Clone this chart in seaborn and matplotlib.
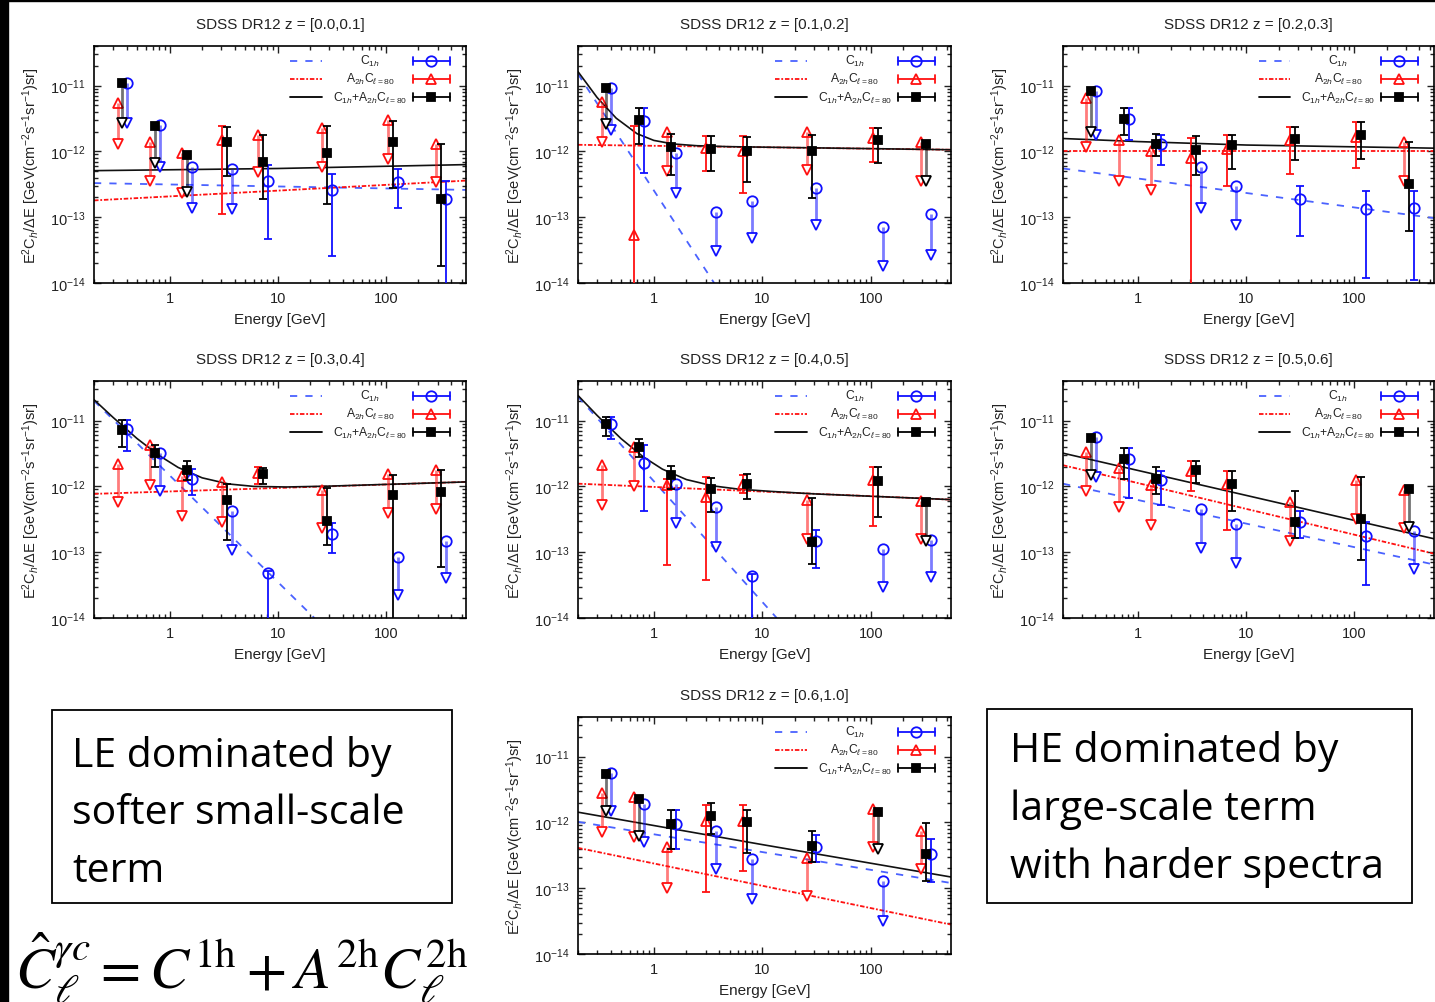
import numpy as np
import pandas as pd
import seaborn as sns
import matplotlib
matplotlib.use("Agg")
import matplotlib.pyplot as plt
from matplotlib.patches import Rectangle
from matplotlib.ticker import LogLocator, NullFormatter, FixedLocator, FixedFormatter

# ---------------- data ----------------
E_SUM = [0.365, 0.73, 1.45, 3.4, 7.3, 28.5, 116, 325]
E_C1H = [0.405, 0.81, 1.61, 3.77, 8.1, 31.6, 129, 361]
E_A2H = [0.33, 0.66, 1.31, 3.06, 6.6, 25.7, 105, 293]

TITLES = ["SDSS DR12 z = [0.0,0.1]", "SDSS DR12 z = [0.1,0.2]", "SDSS DR12 z = [0.2,0.3]",
          "SDSS DR12 z = [0.3,0.4]", "SDSS DR12 z = [0.4,0.5]", "SDSS DR12 z = [0.5,0.6]",
          "SDSS DR12 z = [0.6,1.0]"]

Y_TICKS = [1e-14, 1e-13, 1e-12, 1e-11]
Y_TICK_LABELS = [r"10$^{-14}$", r"10$^{-13}$", r"10$^{-12}$", r"10$^{-11}$"]
X_TICKS = [1, 10, 100]
X_TICK_LABELS = ["1", "10", "100"]

# points: (value, lower, upper); upper None -> upper limit, lower = arrow tip
Z00_SUM = [(1.1e-11, 2.7e-12, None), (2.4e-12, 6.6e-13, None), (8.9e-13, 2.4e-13, None),
           (1.4e-12, 4.2e-13, 2.37e-12), (6.9e-13, 1.9e-13, 1.8e-12), (9.3e-13, 1.6e-13, 2.4e-12),
           (1.37e-12, 2.8e-13, 2.9e-12), (1.9e-13, 1.8e-14, 1.3e-12)]
Z00_C1H = [(1.1e-11, 2.7e-12, None), (2.5e-12, 5.8e-13, None), (5.8e-13, 1.4e-13, None),
           (5.4e-13, 1.35e-13, None), (3.5e-13, 4.7e-14, 6.2e-13), (2.6e-13, 2.6e-14, 4.6e-13),
           (3.4e-13, 1.4e-13, 5.4e-13), (1.9e-13, 1e-16, 3.6e-13)]
Z00_A2H = [(5.4e-12, 1.3e-12, None), (1.4e-12, 3.6e-13, None), (9.5e-13, 2.3e-13, None),
           (1.48e-12, 1.1e-13, 2.4e-12), (1.77e-12, 4.9e-13, None), (2.24e-12, 5.8e-13, None),
           (3.0e-12, 7.8e-13, None), (1.3e-12, 3.4e-13, None)]

Z01_SUM = [(9.1e-12, 2.6e-12, None), (3.0e-12, 1.3e-12, 4.5e-12), (1.15e-12, 4.4e-13, 1.87e-12),
           (1.1e-12, 5.0e-13, 1.7e-12), (1.03e-12, 3.4e-13, 1.66e-12), (1.0e-12, 1.95e-13, 1.8e-12),
           (1.48e-12, 6.7e-13, 2.3e-12), (1.29e-12, 3.5e-13, None)]
Z01_C1H = [(9.1e-12, 2.1e-12, None), (2.9e-12, 4.7e-13, 4.5e-12), (9.3e-13, 2.3e-13, None),
           (1.2e-13, 3.1e-14, None), (1.77e-13, 4.8e-14, None), (2.8e-13, 7.5e-14, None),
           (7.1e-14, 1.8e-14, None), (1.1e-13, 2.7e-14, None)]
Z01_A2H = [(5.6e-12, 1.4e-12, None), (5.3e-14, 1e-16, 2.4e-12), (1.94e-12, 5.1e-13, None),
           (1.12e-12, 5.1e-13, 1.7e-12), (1.03e-12, 2.3e-13, 1.7e-12), (1.94e-12, 5.3e-13, None),
           (1.58e-12, 6.8e-13, 2.3e-12), (1.37e-12, 3.5e-13, None)]

Z02_SUM = [(8.3e-12, 2.0e-12, None), (3.1e-12, 1.8e-12, 4.5e-12), (1.29e-12, 8.6e-13, 1.87e-12),
           (1.05e-12, 4.4e-13, 1.7e-12), (1.25e-12, 5.4e-13, 1.8e-12), (1.57e-12, 7.4e-13, 2.37e-12),
           (1.77e-12, 7.8e-13, 2.8e-12), (3.15e-13, 6.1e-14, 1.4e-12)]
Z02_C1H = [(8.3e-12, 1.8e-12, None), (3.1e-12, 1.5e-12, 4.5e-12), (1.29e-12, 6.3e-13, 1.8e-12),
           (5.8e-13, 1.4e-13, None), (2.95e-13, 7.5e-14, None), (1.86e-13, 5.1e-14, 3.0e-13),
           (1.35e-13, 1.2e-14, 2.5e-13), (1.4e-13, 1.1e-14, 2.5e-13)]
Z02_A2H = [(6.4e-12, 1.17e-12, None), (1.48e-12, 3.6e-13, None), (1.02e-12, 2.6e-13, None),
           (7.9e-13, 1e-16, 1.58e-12), (1.08e-12, 3.0e-13, 1.8e-12), (1.48e-12, 4.6e-13, 2.37e-12),
           (1.66e-12, 5.6e-13, 2.8e-12), (1.37e-12, 3.5e-13, None)]

Z03_SUM = [(7.3e-12, 4.0e-12, 1.03e-11), (3.2e-12, 2.0e-12, 4.3e-12), (1.75e-12, 1.23e-12, 2.4e-12),
           (6.3e-13, 1.55e-13, 1.1e-12), (1.55e-12, 1.1e-12, 1.93e-12), (2.95e-13, 1.27e-13, 9.6e-13),
           (7.3e-13, 1e-16, 1.5e-12), (8.2e-13, 6e-14, 1.75e-12)]
Z03_C1H = [(7.4e-12, 3.4e-12, 1.03e-11), (3.2e-12, 8.4e-13, None), (1.31e-12, 7.3e-13, 1.85e-12),
           (4.3e-13, 1.07e-13, None), (4.9e-14, 1e-16, 5.2e-14), (1.9e-13, 9.8e-14, 2.8e-13),
           (8.5e-14, 2.2e-14, None), (1.5e-13, 4.0e-14, None)]
Z03_A2H = [(2.2e-12, 5.7e-13, None), (4.3e-12, 1.04e-12, None), (1.44e-12, 3.6e-13, None),
           (1.16e-12, 2.9e-13, None), (1.6e-12, 1.1e-12, 2.0e-12), (8.9e-13, 2.3e-13, None),
           (1.55e-12, 4.0e-13, None), (1.8e-12, 4.6e-13, None)]

Z04_SUM = [(8.9e-12, 5.8e-12, 1.15e-11), (4.0e-12, 2.8e-12, 5.2e-12), (1.47e-12, 9e-13, 2.03e-12),
           (9.0e-13, 4.1e-13, 1.35e-12), (1.1e-12, 6.5e-13, 1.55e-12), (1.44e-13, 6.7e-14, 6.7e-13),
           (1.2e-12, 3.4e-13, 1.96e-12), (5.8e-13, 1.5e-13, None)]
Z04_C1H = [(8.9e-12, 5.3e-12, 1.15e-11), (2.3e-12, 4.3e-13, 4.3e-12), (1.07e-12, 2.8e-13, None),
           (4.9e-13, 1.2e-13, None), (4.4e-14, 1e-16, 4.6e-14), (1.47e-13, 5.7e-14, 2.2e-13),
           (1.1e-13, 3.0e-14, None), (1.55e-13, 4.2e-14, None)]
Z04_A2H = [(2.1e-12, 5.2e-13, None), (4.0e-12, 1.02e-12, None), (1.04e-12, 6.3e-14, 1.3e-12),
           (6.9e-13, 3.8e-14, 1.38e-12), (1.1e-12, 8e-13, 1.5e-12), (6.2e-13, 1.6e-13, None),
           (1.24e-12, 2.5e-13, 2.0e-12), (5.9e-13, 1.6e-13, None)]

Z05_SUM = [(5.4e-12, 1.47e-12, None), (2.6e-12, 1.3e-12, 3.9e-12), (1.28e-12, 7.6e-13, 1.96e-12),
           (1.75e-12, 1.14e-12, 2.4e-12), (1.07e-12, 4.2e-13, 1.74e-12), (2.9e-13, 1.65e-13, 8.4e-13),
           (3.2e-13, 7.5e-14, 1.38e-12), (9.0e-13, 2.4e-13, None)]
Z05_C1H = [(5.6e-12, 1.4e-12, None), (2.6e-12, 6.6e-13, 3.9e-12), (1.25e-12, 5.3e-13, 1.74e-12),
           (4.6e-13, 1.14e-13, None), (2.7e-13, 6.9e-14, None), (2.9e-13, 1.65e-13, 4.2e-13),
           (1.77e-13, 3.2e-14, 2.9e-13), (2.1e-13, 5.6e-14, None)]
Z05_A2H = [(3.3e-12, 8.4e-13, None), (1.9e-12, 4.9e-13, None), (1.06e-12, 2.6e-13, None),
           (1.7e-12, 8.4e-13, 2.4e-12), (1.07e-12, 2.2e-13, 1.74e-12), (5.8e-13, 1.48e-13, None),
           (1.23e-12, 3.2e-13, None), (8.7e-13, 2.3e-13, None)]

Z06_SUM = [(5.5e-12, 1.5e-12, None), (2.3e-12, 6.3e-13, None), (9.6e-13, 4.0e-13, 1.55e-12),
           (1.25e-12, 6.6e-13, 1.94e-12), (1.0e-12, 3.4e-13, 1.55e-12), (4.4e-13, 2.5e-13, 7.4e-13),
           (1.46e-12, 3.9e-13, None), (3.3e-13, 1.3e-13, 9.7e-13)]
Z06_C1H = [(5.6e-12, 1.5e-12, None), (1.9e-12, 5.0e-13, None), (9.6e-13, 4.0e-13, 1.55e-12),
           (7.4e-13, 1.94e-13, None), (2.8e-13, 6.8e-14, None), (4.3e-13, 2.5e-13, 6.5e-13),
           (1.27e-13, 3.2e-14, None), (3.3e-13, 1.25e-13, 5.5e-13)]
Z06_A2H = [(2.8e-12, 7.2e-13, None), (2.4e-12, 5.9e-13, None), (4.2e-13, 1.02e-13, None),
           (1.05e-12, 8.7e-14, 1.82e-12), (1.05e-12, 1.8e-13, 1.84e-12), (2.9e-13, 7.7e-14, None),
           (1.58e-12, 4.2e-13, None), (7.4e-13, 1.95e-13, None)]

# model curves: (energies, values)
E_CURVE = [0.2, 0.3, 0.5, 0.8, 1.2, 2, 3.5, 6, 12, 30, 550]
M00_C1H = ([0.2, 550], [3.3e-13, 2.6e-13])
M00_A2H = ([0.2, 550], [1.8e-13, 3.6e-13])
M00_SUM = ([0.2, 10, 550], [5.1e-13, 5.5e-13, 6.3e-13])
M01_C1H = ([0.2, 3.6], [1.5e-11, 1.0e-14])
M01_A2H = ([0.2, 550], [1.26e-12, 1.06e-12])
M01_SUM = ([0.2, 0.3, 0.45, 0.7, 1.0, 1.5, 2.5, 5, 550],
           [1.63e-11, 6.6e-12, 3.2e-12, 1.86e-12, 1.47e-12, 1.30e-12, 1.22e-12, 1.18e-12, 1.06e-12])
M02_C1H = ([0.2, 550], [5.5e-13, 9.7e-14])
M02_A2H = ([0.2, 550], [1.02e-12, 1.02e-12])
M02_SUM = ([0.2, 1, 10, 550], [1.57e-12, 1.41e-12, 1.25e-12, 1.12e-12])
M03_C1H = ([0.2, 21.8], [2.0e-11, 1.0e-14])
M03_A2H = ([0.2, 550], [7.7e-13, 1.17e-12])
M03_SUM = (E_CURVE, [2.08e-11, 1.12e-11, 5.34e-12, 2.95e-12, 1.94e-12, 1.35e-12, 1.09e-12,
                     1.0e-12, 9.8e-13, 1.01e-12, 1.17e-12])
M04_C1H = ([0.2, 13.6], [2.3e-11, 1.0e-14])
M04_A2H = ([0.2, 550], [1.1e-12, 6.3e-13])
M04_SUM = (E_CURVE, [2.41e-11, 1.2e-11, 5.31e-12, 2.81e-12, 1.83e-12, 1.27e-12, 1.02e-12,
                     9.1e-13, 8.4e-13, 7.7e-13, 6.3e-13])
M05_C1H = ([0.2, 550], [1.1e-12, 6.5e-14])
M05_A2H = ([0.2, 550], [2.1e-12, 9.5e-14])
M05_SUM = ([0.2, 10, 550], [3.2e-12, 7.3e-13, 1.6e-13])
M06_C1H = ([0.2, 550], [1.02e-12, 1.2e-13])
M06_A2H = ([0.2, 550], [4.1e-13, 2.8e-14])
M06_SUM = ([0.2, 10, 550], [1.43e-12, 4.6e-13, 1.48e-13])

KEY_LABELS = [r"C$_{1h}$", r"A$_{2h}$C$_{\ell=80}$", r"C$_{1h}$+A$_{2h}$C$_{\ell=80}$"]
Y_LABEL = r"E$^2$C$_h$/$\Delta$E [GeV(cm$^{-2}$s$^{-1}$sr$^{-1}$)sr]"
X_LABEL = "Energy [GeV]"
LE_TEXT = ["LE dominated by", "softer small-scale", "term"]
HE_TEXT = ["HE dominated by", "large-scale term", "with harder spectra"]
FORMULA = r"$\hat{C}_{\ell}^{\gamma c} = C^{1\mathrm{h}} + A^{2\mathrm{h}}C_{\ell}^{2\mathrm{h}}$"

# ---------------- style ----------------
sns.set_theme(style="ticks")
plt.rcParams.update({
    "font.family": ["Liberation Sans", "DejaVu Sans"],
    "mathtext.fontset": "custom",
    "mathtext.rm": "Liberation Sans",
    "mathtext.it": "Liberation Sans:italic",
    "mathtext.bf": "Liberation Sans:bold",
    "text.color": "#222222",
    "axes.labelcolor": "#222222",
    "xtick.color": "#222222",
    "ytick.color": "#222222",
    "axes.edgecolor": "black",
    "axes.linewidth": 1.2,
})

BLUE = "#1010ff"
BLUE_LINE = "#4a62ff"
RED = "#ff1010"
BLACK = "black"

W, H = 1435, 1003
fig = plt.figure(figsize=(W / 100, H / 100), dpi=100)
fig.patch.set_facecolor("white")

POS = [(94, 47, 466, 284), (578, 47, 951, 284), (1063, 47, 1434, 284),
       (94, 382, 466, 619), (578, 382, 951, 619), (1063, 382, 1434, 619),
       (578, 718, 951, 955)]

PANELS = [
    (Z00_SUM, Z00_C1H, Z00_A2H, M00_SUM, M00_C1H, M00_A2H),
    (Z01_SUM, Z01_C1H, Z01_A2H, M01_SUM, M01_C1H, M01_A2H),
    (Z02_SUM, Z02_C1H, Z02_A2H, M02_SUM, M02_C1H, M02_A2H),
    (Z03_SUM, Z03_C1H, Z03_A2H, M03_SUM, M03_C1H, M03_A2H),
    (Z04_SUM, Z04_C1H, Z04_A2H, M04_SUM, M04_C1H, M04_A2H),
    (Z05_SUM, Z05_C1H, Z05_A2H, M05_SUM, M05_C1H, M05_A2H),
    (Z06_SUM, Z06_C1H, Z06_A2H, M06_SUM, M06_C1H, M06_A2H),
]

STY = {
    "c1h": dict(color=BLUE, marker="o", mfc="none", ms=7.5, z=4),
    "a2h": dict(color=RED, marker="^", mfc="none", ms=7.5, z=4),
    "sum": dict(color=BLACK, marker="s", mfc=BLACK, ms=6, z=5),
}
RED_LS = (0, (2.5, 1.0, 1, 1.0))
BLUE_LS = (0, (4, 4.5))


def draw_points(ax, E, pts, s):
    c = s["color"]
    for x, (v, lo, hi) in zip(E, pts):
        if hi is None:
            ax.plot([x, x], [v, lo], color=c, lw=2.0, alpha=0.55, zorder=s["z"] - 1,
                    solid_capstyle="butt")
            ax.plot([x], [lo], marker="v", ms=7.5, mfc="white", mec=c, mew=1.3,
                    ls="none", zorder=s["z"])
            ax.plot([x], [v], marker=s["marker"], ms=s["ms"], mfc=s["mfc"], mec=c,
                    mew=1.3, ls="none", zorder=s["z"])
        else:
            ax.errorbar([x], [v], yerr=[[v - lo], [hi - v]], fmt=s["marker"], color=c,
                        ms=s["ms"], mfc=s["mfc"], mec=c, mew=1.3, elinewidth=1.3,
                        capsize=3.2, capthick=1.3, zorder=s["z"])


def draw_model(ax, m, color, ls, lw):
    df = pd.DataFrame({"E": m[0], "V": m[1]})
    sns.lineplot(data=df, x="E", y="V", ax=ax, color=color, linestyle=ls, lw=lw,
                 legend=False, errorbar=None, zorder=2)


def draw_key(ax):
    rows = [(0.937, BLUE_LINE, BLUE_LS, KEY_LABELS[0], STY["c1h"]),
            (0.861, RED, RED_LS, KEY_LABELS[1], STY["a2h"]),
            (0.785, BLACK, "-", KEY_LABELS[2], STY["sum"])]
    tr = ax.transAxes
    for y, lc, ls, lab, s in rows:
        ax.plot([0.527, 0.613], [y, y], transform=tr, color=lc, ls=ls, lw=1.3)
        ax.text(0.742, y, lab, transform=tr, ha="center", va="center", fontsize=8.7)
        c = s["color"]
        ax.plot([0.858, 0.957], [y, y], transform=tr, color=c, lw=1.3)
        for xx in (0.858, 0.957):
            ax.plot([xx, xx], [y - 0.018, y + 0.018], transform=tr, color=c, lw=1.3)
        ax.plot([0.907], [y], transform=tr, marker=s["marker"], ms=s["ms"], mfc=s["mfc"],
                mec=c, mew=1.3, ls="none")


for i, (l, t, r, b) in enumerate(POS):
    ax = fig.add_axes([l / W, 1 - b / H, (r - l) / W, (b - t) / H])
    ax.set_xscale("log")
    ax.set_yscale("log")
    s_sum, s_c1h, s_a2h, m_sum, m_c1h, m_a2h = PANELS[i]
    draw_model(ax, m_c1h, BLUE_LINE, BLUE_LS, 1.3)
    draw_model(ax, m_a2h, RED, RED_LS, 1.3)
    draw_model(ax, m_sum, "#111111", "-", 1.2)
    draw_points(ax, E_A2H, s_a2h, STY["a2h"])
    draw_points(ax, E_C1H, s_c1h, STY["c1h"])
    draw_points(ax, E_SUM, s_sum, STY["sum"])
    draw_key(ax)
    ax.set_xlim(0.2, 550)
    ax.set_ylim(1e-14, 4e-11)
    ax.xaxis.set_major_locator(FixedLocator(X_TICKS))
    ax.xaxis.set_major_formatter(FixedFormatter(X_TICK_LABELS))
    ax.xaxis.set_minor_locator(LogLocator(base=10, subs=np.arange(2, 10), numticks=20))
    ax.xaxis.set_minor_formatter(NullFormatter())
    ax.yaxis.set_major_locator(FixedLocator(Y_TICKS))
    ax.yaxis.set_major_formatter(FixedFormatter(Y_TICK_LABELS))
    ax.yaxis.set_minor_locator(LogLocator(base=10, subs=np.arange(2, 10), numticks=20))
    ax.yaxis.set_minor_formatter(NullFormatter())
    ax.tick_params(which="both", direction="in", top=True, right=True, width=1.0,
                   labelsize=10.5)
    ax.tick_params(which="major", length=5, pad=6)
    ax.tick_params(which="minor", length=3)
    ax.set_xlabel(X_LABEL, fontsize=11, labelpad=5)
    ax.set_ylabel(Y_LABEL, fontsize=10.5, labelpad=6)
    ax.set_title(TITLES[i], fontsize=11, pad=13)
    for sp in ax.spines.values():
        sp.set_visible(True)
        sp.set_linewidth(1.2)

# black frame remnants at the left / top edge
fig.add_artist(Rectangle((0, 0), 8 / W, 1, transform=fig.transFigure, color="black", zorder=0))
fig.add_artist(Rectangle((0, 1 - 2 / H), 1, 2 / H, transform=fig.transFigure, color="black",
                         zorder=0))

# text boxes
fig.add_artist(Rectangle((52 / W, 1 - 904 / H), 400 / W, 193 / H, transform=fig.transFigure,
                         fill=False, ec="black", lw=1.3))
for line, yb in zip(LE_TEXT, [767, 824, 882]):
    fig.text(72 / W, 1 - yb / H, line, fontsize=29.5, family="Open Sans", color="black",
             va="baseline", ha="left")
fig.add_artist(Rectangle((987 / W, 1 - 904 / H), 425 / W, 194 / H, transform=fig.transFigure,
                         fill=False, ec="black", lw=1.3))
for line, yb in zip(HE_TEXT, [762, 820, 878]):
    fig.text(1010 / W, 1 - yb / H, line, fontsize=29.5, family="Open Sans", color="black",
             va="baseline", ha="left")

fig.text(15 / W, 1 - 988 / H, FORMULA, fontsize=42, math_fontfamily="stix", color="black",
         va="baseline", ha="left")

fig.savefig("out.png", dpi=100, facecolor="white")
